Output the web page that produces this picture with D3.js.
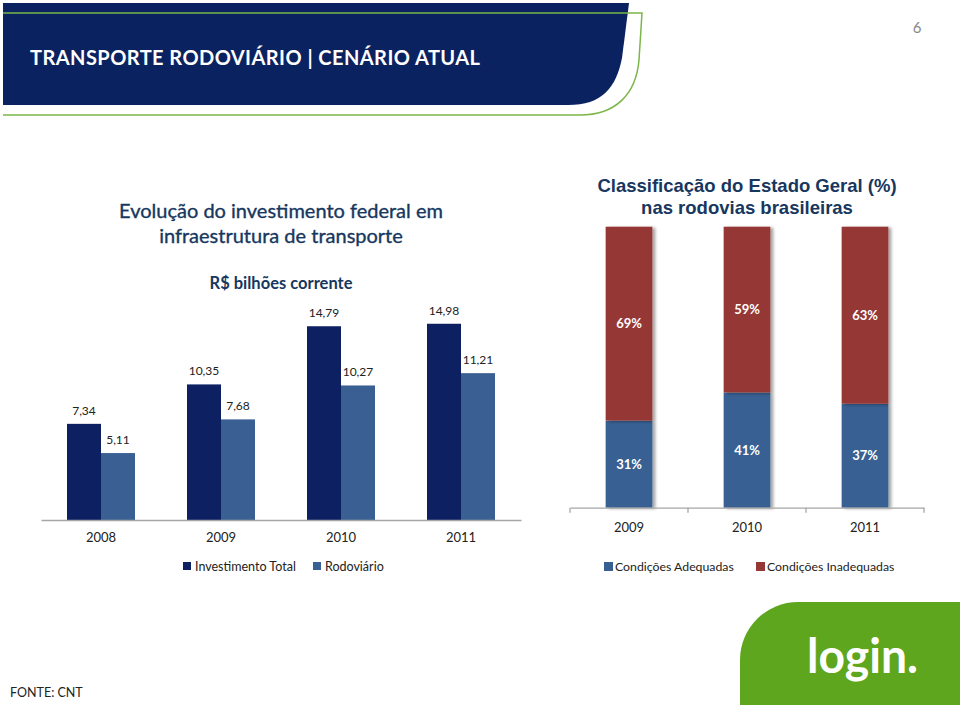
<!DOCTYPE html>
<html lang="pt">
<head>
<meta charset="UTF-8">
<title>Transporte Rodoviário | Cenário Atual</title>
<script src="https://d3js.org/d3.v7.min.js"></script>
<style>
  html, body { margin: 0; padding: 0; background: #fff; }
  svg { display: block; }
  .calibri { font-family: Lato, "Open Sans", sans-serif; }
  .arial { font-family: "Liberation Sans", Arial, sans-serif; }
</style>
</head>
<body>
<svg id="slide" width="960" height="705"></svg>
<script>
// investment chart (R$ bilhões corrente)
const invYears = ["2008", "2009", "2010", "2011"];
const invSeries = ["Investimento Total", "Rodoviário"];
const invTotal = [7.34, 10.35, 14.79, 14.98];
const invRoad = [5.11, 7.68, 10.27, 11.21];

// road condition chart (%)
const condYears = ["2009", "2010", "2011"];
const condSeries = ["Condições Adequadas", "Condições Inadequadas"];
const condGood = [31, 41, 37];
const condBad = [69, 59, 63];

const navy = "#0b2260";
const darkBar = "#0d2162";
const lightBar = "#3a6093";
const redBar = "#953735";
const blueBar = "#376092";
const titleColor = "#17375e";

const svg = d3.select("#slide");

// ---- header band ----
svg.append("path")
    .attr("d", "M3,3 H629 L622,58 C616,88 602,105 568,105 H3 Z")
    .attr("fill", navy);
svg.append("path")
    .attr("d", "M3,13 H642 L639,60 C636,95 615,115 580,115 H3")
    .attr("fill", "none")
    .attr("stroke", "#7ab648")
    .attr("stroke-width", 1.5);
svg.append("text")
    .attr("class", "calibri")
    .attr("x", 30).attr("y", 65)
    .attr("fill", "#fff")
    .attr("font-size", 20)
    .attr("font-weight", "bold")
    .attr("textLength", 450)
    .text("TRANSPORTE RODOVIÁRIO | CENÁRIO ATUAL");
svg.append("text")
    .attr("class", "calibri")
    .attr("x", 917).attr("y", 33)
    .attr("text-anchor", "middle")
    .attr("fill", "#888")
    .attr("font-size", 15)
    .text("6");

// ---- left chart: investment ----
const left = svg.append("g").attr("class", "calibri");

left.selectAll("text.title")
    .data(["Evolução do investimento federal em", "infraestrutura de transporte"])
    .join("text")
    .attr("class", "title")
    .attr("x", 281)
    .attr("y", (d, i) => 218 + i * 25)
    .attr("text-anchor", "middle")
    .attr("fill", titleColor)
    .attr("font-size", 20)
    .attr("stroke", titleColor)
    .attr("stroke-width", 0.35)
    .text(d => d);

left.append("text")
    .attr("x", 281).attr("y", 289)
    .attr("text-anchor", "middle")
    .attr("fill", titleColor)
    .attr("font-size", 16.5)
    .attr("font-weight", "bold")
    .text("R$ bilhões corrente");

const x0 = d3.scaleBand().domain(invYears).range([41, 521]);
const x1 = d3.scaleBand().domain(invSeries)
    .range([0, x0.bandwidth()])
    .paddingOuter(0.765);
const yInv = d3.scaleLinear().domain([0, 16]).range([520, 520 - 16 * 13.1]);
const invColor = d3.scaleOrdinal().domain(invSeries).range([darkBar, lightBar]);

const invRows = invYears.map((yr, i) => ({
    year: yr,
    values: [
        { key: invSeries[0], value: invTotal[i] },
        { key: invSeries[1], value: invRoad[i] }
    ]
}));

const groups = left.selectAll("g.year")
    .data(invRows)
    .join("g")
    .attr("class", "year")
    .attr("transform", d => `translate(${x0(d.year)},0)`);

groups.selectAll("rect")
    .data(d => d.values)
    .join("rect")
    .attr("x", d => x1(d.key))
    .attr("y", d => yInv(d.value))
    .attr("width", x1.bandwidth())
    .attr("height", d => yInv(0) - yInv(d.value))
    .attr("fill", d => invColor(d.key));

groups.selectAll("text.val")
    .data(d => d.values)
    .join("text")
    .attr("class", "val")
    .attr("x", d => x1(d.key) + x1.bandwidth() / 2)
    .attr("y", d => yInv(d.value) - 9)
    .attr("text-anchor", "middle")
    .attr("fill", "#222")
    .attr("font-size", 12)
    .text(d => d3.format(".2f")(d.value).replace(".", ","));

const invAxis = left.append("g")
    .attr("transform", `translate(0,${yInv(0)})`)
    .call(d3.axisBottom(x0).tickSize(0).tickPadding(13));
invAxis.select(".domain").attr("stroke", "#a6a6a6").attr("stroke-width", 1.3);
invAxis.selectAll("text")
    .attr("font-family", "Lato, 'Open Sans', sans-serif")
    .attr("font-size", 13)
    .attr("fill", "#222");

const invLegend = left.selectAll("g.leg")
    .data(invSeries)
    .join("g")
    .attr("class", "leg")
    .attr("transform", (d, i) => `translate(${[183, 313][i]},562)`);
invLegend.append("rect")
    .attr("width", 8).attr("height", 8)
    .attr("fill", d => invColor(d));
invLegend.append("text")
    .attr("x", 12).attr("y", 8.5)
    .attr("font-size", 12.5)
    .attr("fill", "#222")
    .text(d => d);

// ---- right chart: road conditions ----
const right = svg.append("g").attr("class", "calibri");

const defs = svg.append("defs");
defs.append("filter")
    .attr("id", "shadow")
    .attr("x", "-20%").attr("width", "150%")
    .append("feDropShadow")
    .attr("dx", 3).attr("dy", 1)
    .attr("stdDeviation", 1.8)
    .attr("flood-color", "#000")
    .attr("flood-opacity", 0.35);

right.selectAll("text.title")
    .data(["Classificação do Estado Geral (%)", "nas rodovias brasileiras"])
    .join("text")
    .attr("class", "title arial")
    .attr("x", 747)
    .attr("y", (d, i) => 192 + i * 21.5)
    .attr("text-anchor", "middle")
    .attr("fill", titleColor)
    .attr("font-size", 18.5)
    .attr("font-weight", "bold")
    .text(d => d);

const xc = d3.scaleBand().domain(condYears).range([570, 924])
    .paddingInner(0.604).paddingOuter(0.302);
const yc = d3.scaleLinear().domain([0, 100]).range([507.7, 226.7]);
const condColor = d3.scaleOrdinal().domain(condSeries).range([blueBar, redBar]);

const condRows = condYears.map((yr, i) => ({
    year: yr,
    [condSeries[0]]: condGood[i],
    [condSeries[1]]: condBad[i]
}));
const stacked = d3.stack().keys(condSeries)(condRows);

const layers = right.selectAll("g.layer")
    .data(stacked)
    .join("g")
    .attr("class", "layer")
    .attr("fill", d => condColor(d.key));

layers.selectAll("rect")
    .data(d => d)
    .join("rect")
    .attr("x", d => xc(d.data.year))
    .attr("y", d => yc(d[1]))
    .attr("width", xc.bandwidth())
    .attr("height", d => yc(d[0]) - yc(d[1]))
    .attr("filter", "url(#shadow)");

layers.selectAll("text")
    .data(d => d)
    .join("text")
    .attr("x", d => xc(d.data.year) + xc.bandwidth() / 2)
    .attr("y", d => (yc(d[0]) + yc(d[1])) / 2 + 4.5)
    .attr("text-anchor", "middle")
    .attr("fill", "#fff")
    .attr("font-size", 13)
    .attr("font-weight", "bold")
    .text(d => (d[1] - d[0]) + "%");

const condAxis = right.append("g")
    .attr("transform", `translate(0,${yc(0)})`)
    .call(d3.axisBottom(xc).tickSize(0).tickPadding(15));
condAxis.select(".domain").attr("stroke", "#a6a6a6").attr("stroke-width", 1.3);
condAxis.selectAll("text")
    .attr("font-family", "Lato, 'Open Sans', sans-serif")
    .attr("font-size", 13)
    .attr("fill", "#222");
// category separators below the axis
condAxis.selectAll("line.sep")
    .data(d3.range(condYears.length + 1))
    .join("line")
    .attr("class", "sep")
    .attr("x1", i => 570 + i * xc.step())
    .attr("x2", i => 570 + i * xc.step())
    .attr("y1", 0).attr("y2", 5)
    .attr("stroke", "#a6a6a6")
    .attr("stroke-width", 1.3);

const condLegend = right.selectAll("g.leg")
    .data(condSeries)
    .join("g")
    .attr("class", "leg")
    .attr("transform", (d, i) => `translate(${[604, 756][i]},562)`);
condLegend.append("rect")
    .attr("width", 9).attr("height", 9)
    .attr("fill", d => condColor(d));
condLegend.append("text")
    .attr("x", 11).attr("y", 9)
    .attr("font-size", 12.3)
    .attr("fill", "#222")
    .text(d => d);

// ---- footer: source + logo ----
svg.append("text")
    .attr("class", "calibri")
    .attr("x", 10).attr("y", 697)
    .attr("font-size", 12.5)
    .attr("fill", "#222")
    .text("FONTE: CNT");

svg.append("path")
    .attr("d", "M740,705 V660 A58,58 0 0 1 798,602 H960 V705 Z")
    .attr("fill", "#5fa61f");
svg.append("text")
    .attr("class", "calibri")
    .attr("x", 807).attr("y", 673)
    .attr("fill", "#fff")
    .attr("font-size", 48)
    .attr("font-weight", "bold")
    .attr("textLength", 111)
    .attr("lengthAdjust", "spacingAndGlyphs")
    .text("login.");
</script>
</body>
</html>
